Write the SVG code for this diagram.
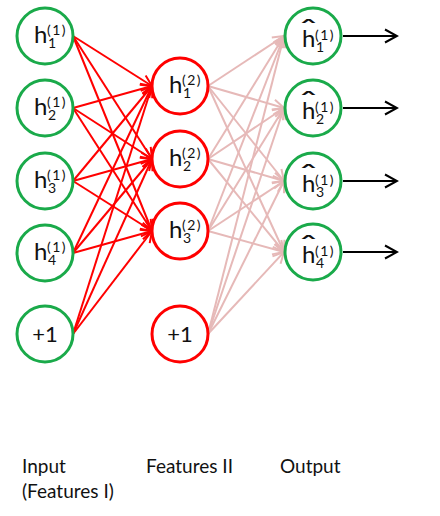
<svg xmlns="http://www.w3.org/2000/svg" width="440" height="516" viewBox="0 0 440 516">
<style>
.in{fill:#fff;stroke:#1aaa4a;stroke-width:3}
.hid{fill:#fff;stroke:#ff0000;stroke-width:3}
.t{font-family:Lato,"Liberation Sans",sans-serif;fill:#111;font-size:24px}
.s{font-size:14px}
.sp{font-size:14px;letter-spacing:1.5px}
.p1{font-size:22px}
.hat{font-size:30px}
.lab{font-family:Lato,"Liberation Sans",sans-serif;font-size:19px;fill:#111}
.r{stroke:#ff0000;stroke-width:2;fill:none;marker-end:url(#ar)}
.k{stroke:#e6b9b8;stroke-width:2;fill:none;marker-end:url(#ap)}
.b{stroke:#000;stroke-width:2;fill:none;marker-end:url(#ab)}
</style>
<defs>
<marker id="ar" markerUnits="userSpaceOnUse" markerWidth="14" markerHeight="14" viewBox="0 0 14 14" refX="12" refY="7" orient="auto"><path d="M1,1.5 L12,7 L1,12.5" fill="none" stroke="#ff0000" stroke-width="2"/></marker>
<marker id="ap" markerUnits="userSpaceOnUse" markerWidth="14" markerHeight="14" viewBox="0 0 14 14" refX="12" refY="7" orient="auto"><path d="M1,1.5 L12,7 L1,12.5" fill="none" stroke="#e6b9b8" stroke-width="2"/></marker>
<marker id="ab" markerUnits="userSpaceOnUse" markerWidth="16" markerHeight="16" viewBox="0 0 16 16" refX="14" refY="8" orient="auto"><path d="M2,1.5 L14,8 L2,14.5" fill="none" stroke="#000" stroke-width="2"/></marker>
</defs>
<g id="connectors">
<path class="r" d="M73,36 L152,86"/><path class="r" d="M73,36 L152,159"/><path class="r" d="M73,36 L152,231"/>
<path class="r" d="M73,108 L152,86"/><path class="r" d="M73,108 L152,159"/><path class="r" d="M73,108 L152,231"/>
<path class="r" d="M73,181 L152,86"/><path class="r" d="M73,181 L152,159"/><path class="r" d="M73,181 L152,231"/>
<path class="r" d="M73,253 L152,86"/><path class="r" d="M73,253 L152,159"/><path class="r" d="M73,253 L152,231"/>
<path class="r" d="M73,334 L152,86"/><path class="r" d="M73,334 L152,159"/><path class="r" d="M73,334 L152,231"/>
<path class="k" d="M208,86 L284,36"/><path class="k" d="M208,86 L284,108"/><path class="k" d="M208,86 L284,181"/><path class="k" d="M208,86 L284,252"/>
<path class="k" d="M208,159 L284,36"/><path class="k" d="M208,159 L284,108"/><path class="k" d="M208,159 L284,181"/><path class="k" d="M208,159 L284,252"/>
<path class="k" d="M208,231 L284,36"/><path class="k" d="M208,231 L284,108"/><path class="k" d="M208,231 L284,181"/><path class="k" d="M208,231 L284,252"/>
<path class="k" d="M208,334 L284,36"/><path class="k" d="M208,334 L284,108"/><path class="k" d="M208,334 L284,181"/><path class="k" d="M208,334 L284,252"/>
<path class="b" d="M343,36 L397,36"/><path class="b" d="M343,108 L397,108"/><path class="b" d="M343,181 L397,181"/><path class="b" d="M343,252 L397,252"/>
</g>
<g id="in1"><circle class="in" cx="45" cy="36" r="28"/><text class="t" x="34" y="43">h<tspan class="sp" x="47" y="35">(1)</tspan><tspan class="s" x="48" y="48">1</tspan></text></g>
<g id="in2"><circle class="in" cx="45" cy="108" r="28"/><text class="t" x="34" y="115">h<tspan class="sp" x="47" y="107">(1)</tspan><tspan class="s" x="48" y="120">2</tspan></text></g>
<g id="in3"><circle class="in" cx="45" cy="181" r="28"/><text class="t" x="34" y="188">h<tspan class="sp" x="47" y="180">(1)</tspan><tspan class="s" x="48" y="193">3</tspan></text></g>
<g id="in4"><circle class="in" cx="45" cy="253" r="28"/><text class="t" x="34" y="260">h<tspan class="sp" x="47" y="252">(1)</tspan><tspan class="s" x="48" y="265">4</tspan></text></g>
<g id="in5"><circle class="in" cx="45" cy="334" r="28"/><text class="t p1" x="45" y="342" text-anchor="middle">+1</text></g>
<g id="hid1"><circle class="hid" cx="180" cy="86" r="28"/><text class="t" x="169" y="93">h<tspan class="sp" x="182" y="85">(2)</tspan><tspan class="s" x="183" y="98">1</tspan></text></g>
<g id="hid2"><circle class="hid" cx="180" cy="159" r="28"/><text class="t" x="169" y="166">h<tspan class="sp" x="182" y="158">(2)</tspan><tspan class="s" x="183" y="171">2</tspan></text></g>
<g id="hid3"><circle class="hid" cx="180" cy="231" r="28"/><text class="t" x="169" y="238">h<tspan class="sp" x="182" y="230">(2)</tspan><tspan class="s" x="183" y="243">3</tspan></text></g>
<g id="hid4"><circle class="hid" cx="180" cy="334" r="28"/><text class="t p1" x="180" y="342" text-anchor="middle">+1</text></g>
<g id="out1"><circle class="in" cx="313" cy="36" r="28"/><text class="t hat" text-anchor="middle" transform="translate(308.5,41) scale(1.5,1)">ˆ</text><text class="t" x="302" y="47">h<tspan class="sp" x="315" y="40">(1)</tspan><tspan class="s" x="316" y="52">1</tspan></text></g>
<g id="out2"><circle class="in" cx="313" cy="108" r="28"/><text class="t hat" text-anchor="middle" transform="translate(308.5,113) scale(1.5,1)">ˆ</text><text class="t" x="302" y="119">h<tspan class="sp" x="315" y="112">(1)</tspan><tspan class="s" x="316" y="124">2</tspan></text></g>
<g id="out3"><circle class="in" cx="313" cy="181" r="28"/><text class="t hat" text-anchor="middle" transform="translate(308.5,186) scale(1.5,1)">ˆ</text><text class="t" x="302" y="192">h<tspan class="sp" x="315" y="185">(1)</tspan><tspan class="s" x="316" y="197">3</tspan></text></g>
<g id="out4"><circle class="in" cx="313" cy="252" r="28"/><text class="t hat" text-anchor="middle" transform="translate(308.5,257) scale(1.5,1)">ˆ</text><text class="t" x="302" y="263">h<tspan class="sp" x="315" y="256">(1)</tspan><tspan class="s" x="316" y="268">4</tspan></text></g>
<g id="labels">
<text class="lab" x="22" y="473">Input</text>
<text class="lab" x="22" y="498">(Features I)</text>
<text class="lab" x="146" y="473">Features II</text>
<text class="lab" x="280" y="473">Output</text>
</g>
</svg>
